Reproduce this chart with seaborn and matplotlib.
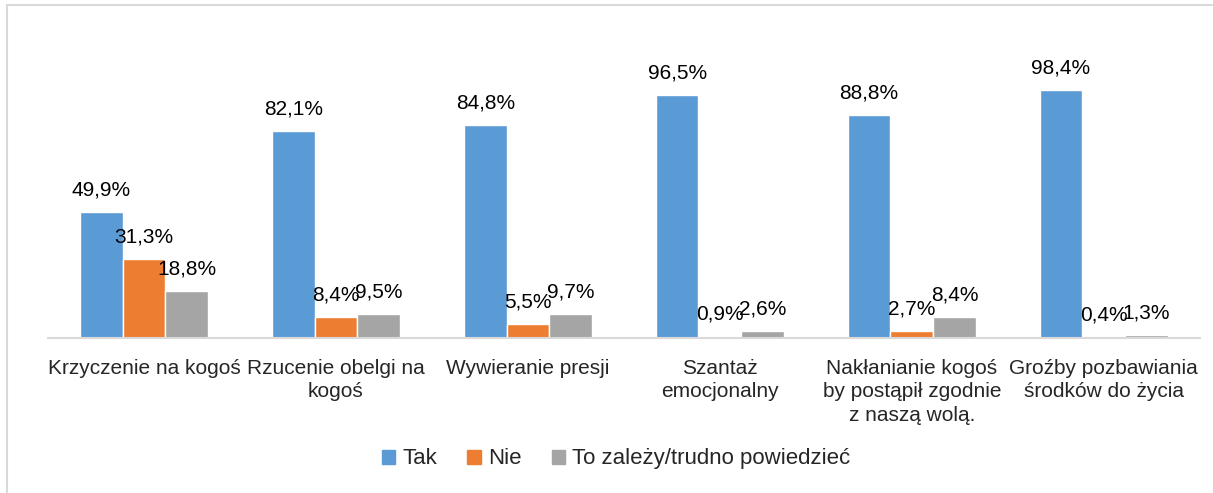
import matplotlib.pyplot as plt
import matplotlib.patches as mpatches
import matplotlib.lines as mlines
import seaborn as sns
import pandas as pd

# dane z wykresu
categories = [
    "Krzyczenie na kogoś",
    "Rzucenie obelgi na\nkogoś",
    "Wywieranie presji",
    "Szantaż\nemocjonalny",
    "Nakłanianie kogoś\nby postąpił zgodnie\nz naszą wolą.",
    "Groźby pozbawiania\nśrodków do życia",
]
series = ["Tak", "Nie", "To zależy/trudno powiedzieć"]
tak = [49.9, 82.1, 84.8, 96.5, 88.8, 98.4]
nie = [31.3, 8.4, 5.5, 0.9, 2.7, 0.4]
zalezy = [18.8, 9.5, 9.7, 2.6, 8.4, 1.3]

colors = ["#5b9bd5", "#ed7d31", "#a5a5a5"]

rows = []
for name, vals in zip(series, [tak, nie, zalezy]):
    for cat, v in zip(categories, vals):
        rows.append({"kategoria": cat, "odpowiedz": name, "wartosc": v})
df = pd.DataFrame(rows)

sns.set_theme(style="white")
plt.rcParams['font.family'] = ['Liberation Sans', 'DejaVu Sans']

fig = plt.figure(figsize=(12.13, 4.93), dpi=100, facecolor='white')
ax = fig.add_axes([0.0396, 0.3144, 0.9494, 0.6126])

sns.barplot(data=df, x="kategoria", y="wartosc", hue="odpowiedz",
            palette=colors, width=0.667, gap=0, ax=ax, legend=False,
            saturation=1, errorbar=None)

for cont, vals in zip(ax.containers, [tak, nie, zalezy]):
    ax.bar_label(cont, labels=[f"{v:.1f}%".replace(".", ",") for v in vals],
                 padding=9, fontsize=15, color='black')

ax.set_ylim(0, 120)
ax.set_xlim(-0.5, len(categories) - 0.5)
ax.set_yticks([])
ax.set_xlabel("")
ax.set_ylabel("")
ax.tick_params(axis='x', labelsize=15, length=0, pad=15)
for lab in ax.get_xticklabels():
    lab.set_linespacing(1.3)
for s in ['top', 'right', 'left']:
    ax.spines[s].set_visible(False)
ax.spines['bottom'].set_color('#d9d9d9')
ax.spines['bottom'].set_linewidth(1.5)

handles = [mpatches.Patch(color=c, label=s) for c, s in zip(colors, series)]
fig.legend(handles=handles, loc='center', bbox_to_anchor=(0.508, 0.069), ncol=3,
           frameon=False, fontsize=16, handlelength=0.6, handleheight=0.6,
           handletextpad=0.32, columnspacing=1.36, borderpad=0)

# ramka wykresu (widoczna tylko z lewej i u góry)
fig.add_artist(mlines.Line2D([0.0058, 0.0058], [0, 0.990], transform=fig.transFigure,
                             color='#d9d9d9', linewidth=1.5))
fig.add_artist(mlines.Line2D([0.0058, 1], [0.990, 0.990], transform=fig.transFigure,
                             color='#d9d9d9', linewidth=1.5))

plt.savefig('out.png', dpi=100)
plt.close()
